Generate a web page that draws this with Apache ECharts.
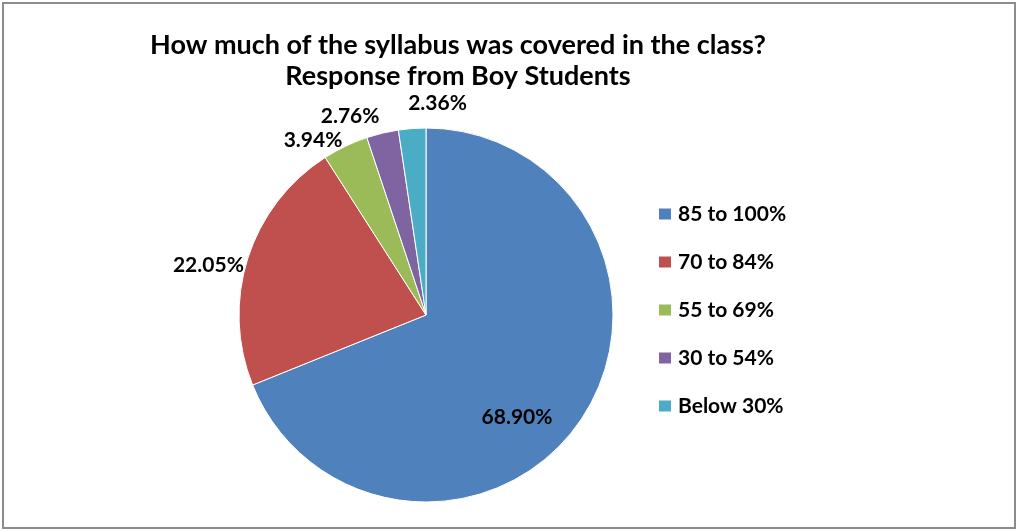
<!DOCTYPE html>
<html>
<head>
<meta charset="utf-8">
<style>
  html, body { margin: 0; padding: 0; background: #fff; }
  #chart { width: 1018px; height: 531px; }
</style>
<script src="https://cdn.jsdelivr.net/npm/echarts@6/dist/echarts.min.js"></script>
</head>
<body>
<div id="chart"></div>
<script>
// data
var categories = ['85 to 100%', '70 to 84%', '55 to 69%', '30 to 54%', 'Below 30%']
var shares = [68.90, 22.05, 3.94, 2.76, 2.36]
var colors = ['#4F81BD', '#C0504D', '#9BBB59', '#8064A2', '#4BACC6']

// nudges so the labels sit where Excel put them
var labelShift = [
  { dx: 11, dy: 48 },
  { dx: 1, dy: 7 },
  { dx: 2, dy: -6 },
  { dx: 2, dy: -17 },
  { dx: 1, dy: -25, align: 'left' }
]

var font = 'Lato, "Open Sans", sans-serif'
var chart = echarts.init(document.getElementById('chart'))

var pieData = categories.map(function (name, i) {
  var item = { name: name, value: shares[i], itemStyle: { color: colors[i] } }
  if (i === 0) item.label = { position: 'inside' }
  return item
})

chart.setOption({
  animation: false,
  graphic: [{
    type: 'rect',
    shape: { x: 3, y: 3, width: 1012, height: 525 },
    style: { fill: 'none', stroke: '#8c8c8c', lineWidth: 2 },
    silent: true
  }],
  title: {
    text: 'How much of the syllabus was covered in the class?\nResponse from Boy Students',
    left: 453,
    top: 25,
    textAlign: 'center',
    textStyle: {
      fontFamily: font,
      fontWeight: 'bold',
      fontSize: 27,
      lineHeight: 31,
      color: '#000'
    }
  },
  legend: {
    orient: 'vertical',
    left: 652,
    top: 198,
    itemWidth: 14,
    itemHeight: 13,
    itemGap: 26,
    icon: 'rect',
    data: categories,
    textStyle: {
      fontFamily: font,
      fontWeight: 'bold',
      fontSize: 21,
      lineHeight: 22,
      color: '#000',
      padding: [0, 0, 0, 1]
    }
  },
  series: [{
    type: 'pie',
    center: [426, 315],
    radius: 187,
    startAngle: 90,
    clockwise: true,
    avoidLabelOverlap: false,
    itemStyle: { borderColor: '#fff', borderWidth: 1 },
    emphasis: { disabled: true },
    label: {
      position: 'outside',
      formatter: function (p) { return p.value.toFixed(2) + '%' },
      fontFamily: font,
      fontWeight: 'bold',
      fontSize: 21,
      color: '#000'
    },
    labelLine: { show: false, length: 0, length2: 0 },
    labelLayout: function (params) {
      return labelShift[params.dataIndex]
    },
    data: pieData
  }]
})
</script>
</body>
</html>
